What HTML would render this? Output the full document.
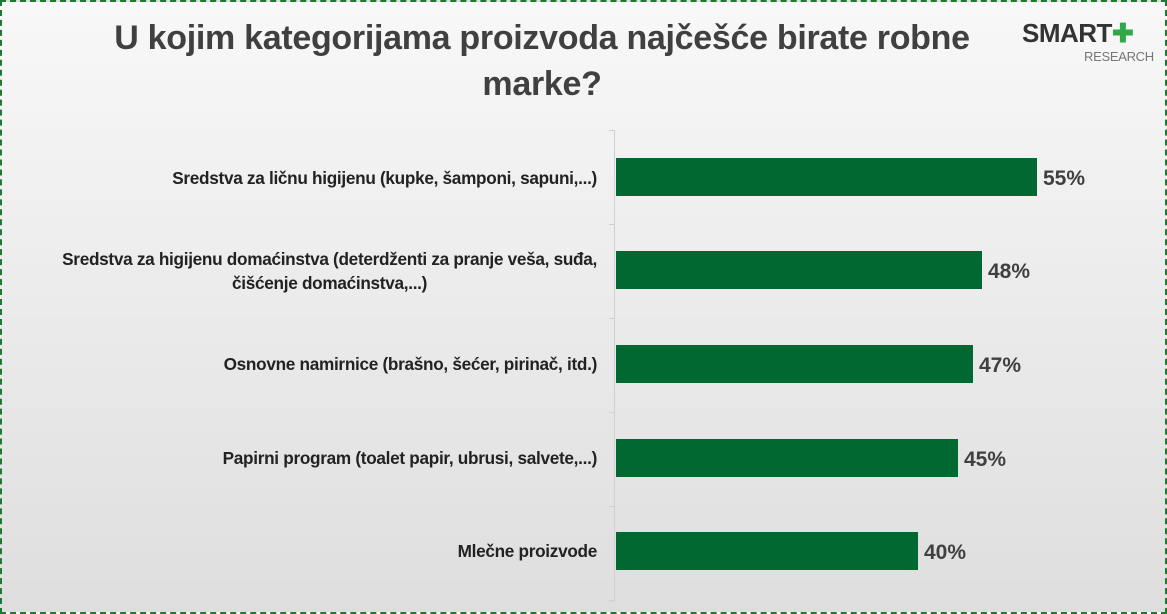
<!DOCTYPE html>
<html><head><meta charset="utf-8"><style>
body{margin:0;width:1167px;height:614px;overflow:hidden;font-family:"Liberation Sans",sans-serif}
#c{position:absolute;left:0;top:0;width:1163px;height:610px;border:2px dashed #1e7a30;background:linear-gradient(#f8f8f8,#dedede)}
.t{position:absolute;left:40px;width:1000px;text-align:center;font-weight:bold;font-size:34px;color:#404040;letter-spacing:-0.3px}
.lab{position:absolute;right:568px;width:620px;text-align:right;font-weight:bold;font-size:17.2px;color:#222;letter-spacing:-0.3px;line-height:24px}
.lab span{display:inline-block;text-align:center}
.bar{position:absolute;left:614px;height:38px;background:#006830}
.v{position:absolute;font-weight:bold;font-size:21px;color:#404040}
</style></head><body><div id="c">
<div class="t" style="top:17px">U kojim kategorijama proizvoda najčešće birate robne</div>
<div class="t" style="top:63px">marke?</div>
<div style="position:absolute;left:1020px;top:16px;font-weight:bold;font-size:26px;color:#333;letter-spacing:-0.5px">SMART<span style="color:#2fa84a">✚</span></div>
<div style="position:absolute;left:1082px;top:47px;font-size:13px;color:#777;letter-spacing:-0.3px">RESEARCH</div>
<div style="position:absolute;left:612px;top:128px;width:1px;height:472px;background:#d0d0d0"></div>
<div style="position:absolute;left:607px;top:128px;width:6px;height:1px;background:#d0d0d0"></div>
<div style="position:absolute;left:607px;top:222px;width:6px;height:1px;background:#d0d0d0"></div>
<div style="position:absolute;left:607px;top:316px;width:6px;height:1px;background:#d0d0d0"></div>
<div style="position:absolute;left:607px;top:410px;width:6px;height:1px;background:#d0d0d0"></div>
<div style="position:absolute;left:607px;top:504px;width:6px;height:1px;background:#d0d0d0"></div>
<div style="position:absolute;left:607px;top:598px;width:6px;height:1px;background:#d0d0d0"></div>

<div class="lab" style="top:164px"><span>Sredstva za ličnu higijenu (kupke, šamponi, sapuni,...)</span></div>
<div class="bar" style="top:156px;width:421px"></div><div class="v" style="left:1041px;top:165px">55%</div>

<div class="lab" style="top:245px"><span>Sredstva za higijenu domaćinstva (deterdženti za pranje veša, suđa,<br>čišćenje domaćinstva,...)</span></div>
<div class="bar" style="top:249px;width:366px"></div><div class="v" style="left:986px;top:258px">48%</div>

<div class="lab" style="top:350px"><span>Osnovne namirnice (brašno, šećer, pirinač, itd.)</span></div>
<div class="bar" style="top:343px;width:357px"></div><div class="v" style="left:977px;top:352px">47%</div>

<div class="lab" style="top:444px"><span>Papirni program (toalet papir, ubrusi, salvete,...)</span></div>
<div class="bar" style="top:437px;width:342px"></div><div class="v" style="left:962px;top:446px">45%</div>

<div class="lab" style="top:537px"><span>Mlečne proizvode</span></div>
<div class="bar" style="top:530px;width:302px"></div><div class="v" style="left:922px;top:539px">40%</div>
</div></body></html>
